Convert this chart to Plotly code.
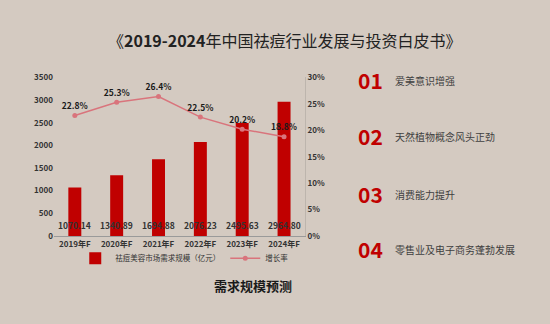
import plotly.graph_objects as go

categories = ["2019年F", "2020年F", "2021年F", "2022年F", "2023年F", "2024年F"]
market_size = [1070.14, 1340.89, 1694.88, 2076.23, 2495.63, 2964.80]
growth_rate = [22.8, 25.3, 26.4, 22.5, 20.2, 18.8]
left_ticks = [0, 500, 1000, 1500, 2000, 2500, 3000, 3500]
right_ticks = [0, 5, 10, 15, 20, 25, 30]
drivers_num = ["01", "02", "03", "04"]
drivers_text = ["爱美意识增强", "天然植物概念风头正劲", "消费能力提升", "零售业及电子商务蓬勃发展"]

FONT = "Noto Sans CJK SC"
BG = "#d4cac1"
RED = "#c00000"
PINK = "#d9747c"

fig = go.Figure()
fig.add_trace(go.Bar(
    x=categories, y=market_size, name="祛痘美容市场需求规模（亿元）",
    marker=dict(color=RED, line=dict(width=0)), width=0.31,
))
fig.add_trace(go.Scatter(
    x=categories, y=growth_rate, name="增长率", yaxis="y2",
    mode="lines+markers+text",
    line=dict(color=PINK, width=1.5), marker=dict(color=PINK, size=5),
    text=[f"{v:.1f}%" for v in growth_rate], textposition="top center",
    textfont=dict(family=FONT, size=8.5, color="#1a1a1a", weight="bold"),
))

for c, v in zip(categories, market_size):
    fig.add_annotation(x=c, y=0, xref="x", yref="y", text=f"{v:.2f}",
                       showarrow=False, yanchor="bottom", yshift=3,
                       font=dict(family=FONT, size=8.5, color="#333333", weight="bold"))

tickfont = dict(size=8, color="#333333", family=FONT, weight="bold")
fig.update_layout(
    width=550, height=324, margin=dict(l=0, r=0, t=0, b=0),
    paper_bgcolor=BG, plot_bgcolor=BG,
    font=dict(family=FONT, color="#404040"),
    xaxis=dict(domain=[0.098, 0.5545], showgrid=False, showline=True,
               linecolor="#9a9a9a", linewidth=1, ticks="", tickfont=tickfont),
    yaxis=dict(domain=[0.2654, 0.7716], range=[0, 3500], tickvals=left_ticks,
               showgrid=False, zeroline=False, showline=False, tickfont=tickfont),
    yaxis2=dict(overlaying="y", side="right", range=[0, 30], tickvals=right_ticks,
                ticktext=[f"{t}%" for t in right_ticks], showgrid=False,
                zeroline=False, showline=True, linecolor="#bdb5ad", tickfont=tickfont),
    legend=dict(orientation="h", x=0.335, xanchor="center", y=0.194, yanchor="middle",
                font=dict(size=7.5, color="#333333", family=FONT), bgcolor="rgba(0,0,0,0)",
                itemwidth=30),
    showlegend=True,
)

fig.add_annotation(x=0.517, y=0.892, xref="paper", yref="paper",
                   text="《<b>2019-2024</b>年中国祛痘行业发展与投资白皮书》",
                   showarrow=False, xanchor="center", yanchor="middle",
                   font=dict(family=FONT, size=16, color="#222222"))
fig.add_annotation(x=0.46, y=0.108, xref="paper", yref="paper",
                   text="<b>需求规模预测</b>", showarrow=False,
                   xanchor="center", yanchor="middle",
                   font=dict(family=FONT, size=13, color="#1a1a1a"))

ys = [77, 135, 195, 252]
for n, t, yy in zip(drivers_num, drivers_text, ys):
    fig.add_annotation(x=356 / 550, y=1 - yy / 324, xref="paper", yref="paper",
                       text=f"<b>{n}</b>", showarrow=False, xanchor="left",
                       yanchor="middle", font=dict(family=FONT, size=21, color=RED))
    fig.add_annotation(x=393 / 550, y=1 - yy / 324, xref="paper", yref="paper",
                       text=t, showarrow=False, xanchor="left", yanchor="middle",
                       font=dict(family=FONT, size=10, color="#404040"))

fig.write_html("out.html")
